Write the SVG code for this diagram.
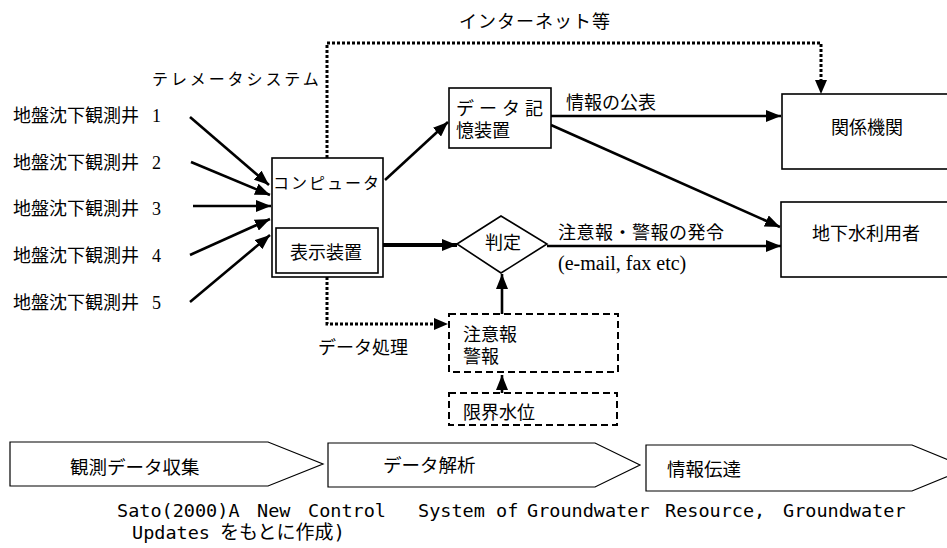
<svg xmlns="http://www.w3.org/2000/svg" width="947" height="548" viewBox="0 0 947 548">
<defs>
<marker id="ah" markerUnits="userSpaceOnUse" markerWidth="16" markerHeight="12" viewBox="0 0 16 12" refX="15" refY="6" orient="auto">
<path d="M0,0 L15,6 L0,12 Z" fill="#000"/>
</marker>
</defs>
<style>
.t{font-family:"Liberation Serif","Noto Sans CJK JP",serif;font-size:18px;fill:#000}
.g{font-family:"Noto Sans CJK JP",sans-serif;font-size:18.5px;fill:#000}
.m{font-family:"DejaVu Sans Mono","Noto Sans CJK JP",monospace;font-size:18.5px;fill:#000}
.box{fill:#fff;stroke:#000;stroke-width:1.6}
.dash{fill:#fff;stroke:#000;stroke-width:2;stroke-dasharray:7 4}
.a{fill:none;stroke:#000;stroke-width:2.6;marker-end:url(#ah)}
.dot{fill:none;stroke:#000;stroke-width:3;stroke-dasharray:3 2}
</style>
<rect width="947" height="548" fill="#fff"/>

<g id="connectors">
<line class="a" x1="190" y1="117" x2="269" y2="185"/>
<line class="a" x1="191" y1="162" x2="270" y2="195"/>
<line class="a" x1="193" y1="206" x2="271" y2="206"/>
<line class="a" x1="190" y1="255" x2="270" y2="219"/>
<line class="a" x1="190" y1="302" x2="270" y2="235"/>
<line class="a" x1="385" y1="180" x2="448" y2="122"/>
<line class="a" x1="551" y1="116" x2="781" y2="116"/>
<line class="a" x1="551" y1="125" x2="780" y2="227"/>
<line class="a" x1="378" y1="245" x2="457" y2="245" style="stroke-width:4"/>
<line class="a" x1="547" y1="246" x2="781" y2="246"/>
<line class="a" x1="502" y1="314" x2="502" y2="274"/>
<line class="a" x1="502" y1="393" x2="502" y2="375"/>
<path class="dot" d="M327,158 V43 H821 V82"/>
<path d="M815,80 L821,94 L827,80 Z" fill="#000"/>
<path class="dot" d="M327,277 V324 H436"/>
<path d="M434,318 L448,324 L434,330 Z" fill="#000"/>
<text class="t" x="459" y="28" style="letter-spacing:1px">インターネット等</text>
<text class="t" x="152" y="85" style="font-size:16px;letter-spacing:2.9px">テレメータシステム</text>
<text class="t" x="566" y="109">情報の公表</text>
<text class="t" x="558" y="239" style="letter-spacing:0.5px">注意報・警報の発令</text>
<text class="t" x="558" y="270" style="font-size:20px">(e-mail, fax etc)</text>
<text class="t" x="318" y="354">データ処理</text>
</g>

<g id="well1"><text class="t" x="13" y="122">地盤沈下観測井<tspan x="152">1</tspan></text></g>
<g id="well2"><text class="t" x="13" y="169">地盤沈下観測井<tspan x="152">2</tspan></text></g>
<g id="well3"><text class="t" x="13" y="215">地盤沈下観測井<tspan x="152">3</tspan></text></g>
<g id="well4"><text class="t" x="13" y="262">地盤沈下観測井<tspan x="152">4</tspan></text></g>
<g id="well5"><text class="t" x="13" y="309">地盤沈下観測井<tspan x="152">5</tspan></text></g>

<g id="computer">
<rect class="box" x="272" y="158" width="111" height="119"/>
<text class="t" x="273" y="189" style="font-size:16px;letter-spacing:2px">コンピュータ</text>
<rect class="box" x="276" y="228" width="102" height="45"/>
<text class="t" x="290" y="259">表示装置</text>
</g>

<g id="storage">
<rect class="box" x="449" y="88" width="102" height="60"/>
<text class="t" x="456" y="115" textLength="87" lengthAdjust="spacing">デ ー タ 記</text>
<text class="t" x="456" y="137">憶装置</text>
</g>

<g id="agencies">
<rect class="box" x="782" y="94" width="180" height="75"/>
<text class="t" x="867" y="134" text-anchor="middle">関係機関</text>
</g>

<g id="users">
<rect class="box" x="781" y="202" width="180" height="75"/>
<text class="t" x="866" y="240" text-anchor="middle">地下水利用者</text>
</g>

<g id="judge">
<path class="box" d="M457,244 L501,216 L547,244 L501,273 Z"/>
<text class="t" x="503" y="249" text-anchor="middle">判定</text>
</g>

<g id="alarm">
<rect class="dash" x="449" y="314" width="169" height="58"/>
<text class="t" x="463" y="341">注意報</text>
<text class="t" x="463" y="363">警報</text>
</g>

<g id="limit">
<rect class="dash" x="449" y="393" width="168" height="32"/>
<text class="t" x="463" y="419">限界水位</text>
</g>

<g id="stage1">
<path class="box" d="M10,442 H268 L323,464 L268,486 H10 Z" style="stroke-width:1.2"/>
<text class="g" x="70" y="474">観測データ収集</text>
</g>
<g id="stage2">
<path class="box" d="M328,443 H595 L640,465 L595,487 H328 Z" style="stroke-width:1.2"/>
<text class="g" x="383" y="472">データ解析</text>
</g>
<g id="stage3">
<path class="box" d="M646,445 H912 L968,468 L912,491 H646 Z" style="stroke-width:1.2"/>
<text class="g" x="667" y="476">情報伝達</text>
</g>

<g id="citation">
<text class="m" y="517"><tspan x="117">Sato(2000)A</tspan><tspan x="257">New</tspan><tspan x="308">Control</tspan><tspan x="418">System</tspan><tspan x="496">of</tspan><tspan x="527">Groundwater</tspan><tspan x="665">Resource,</tspan><tspan x="783">Groundwater</tspan></text>
<text class="m" y="539"><tspan x="132">Updates</tspan><tspan x="220" style="font-size:19px">をもとに作成)</tspan></text>
</g>
</svg>
